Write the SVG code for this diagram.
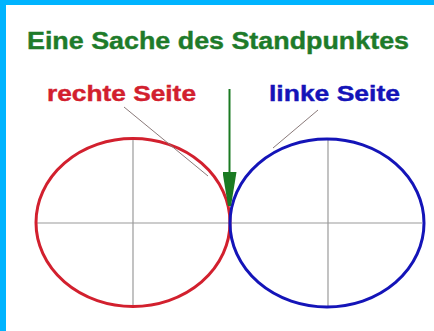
<svg xmlns="http://www.w3.org/2000/svg" width="434" height="331" viewBox="0 0 434 331">
<style>
.t{font-family:"Liberation Sans",Arial,sans-serif;font-weight:bold}
.ax{stroke:#9a9a9a;stroke-width:1.2;fill:none}
.ptr{stroke:#8a7a7a;stroke-width:1;fill:none}
</style>
<defs>
<marker id="ah" viewBox="0 0 34 14" refX="33" refY="7" markerWidth="34" markerHeight="14" markerUnits="userSpaceOnUse" orient="auto">
<path d="M0,0 L0,14 L34,8.5 L34,5.5 Z" fill="#1a7a22"/>
</marker>
</defs>
<rect x="0" y="0" width="434" height="331" fill="#ffffff"/>
<rect x="0" y="0" width="434" height="5" fill="#00b4ff"/>
<rect x="0" y="0" width="6" height="331" fill="#00b4ff"/>
<text class="t" x="27" y="49" font-size="24" fill="#1e7b2a" stroke="#1e7b2a" stroke-width="0.4" textLength="382" lengthAdjust="spacingAndGlyphs">Eine Sache des Standpunktes</text>
<g id="left">
<line class="ax" x1="133" y1="138" x2="133" y2="307"/>
<line class="ax" x1="36" y1="223" x2="230" y2="223"/>
<ellipse cx="133" cy="222.5" rx="97" ry="84" fill="none" stroke="#d2202e" stroke-width="3"/>
<text class="t" x="47" y="101" font-size="22" fill="#d2202e" stroke="#d2202e" stroke-width="0.4" textLength="149" lengthAdjust="spacingAndGlyphs">rechte Seite</text>
</g>
<g id="right">
<line class="ax" x1="328" y1="139" x2="328" y2="307"/>
<line class="ax" x1="230" y1="223" x2="422" y2="223"/>
<ellipse cx="327" cy="223" rx="97" ry="84" fill="none" stroke="#1414b8" stroke-width="3"/>
<text class="t" x="269" y="101" font-size="22" fill="#1414b8" stroke="#1414b8" stroke-width="0.4" textLength="131" lengthAdjust="spacingAndGlyphs">linke Seite</text>
</g>
<g id="connectors">
<line class="ptr" x1="124" y1="107" x2="208" y2="176"/>
<line class="ptr" x1="318" y1="110" x2="273" y2="148"/>
<line x1="229.5" y1="89" x2="229.5" y2="205" stroke="#1a7a22" stroke-width="2" marker-end="url(#ah)"/>
</g>
</svg>
